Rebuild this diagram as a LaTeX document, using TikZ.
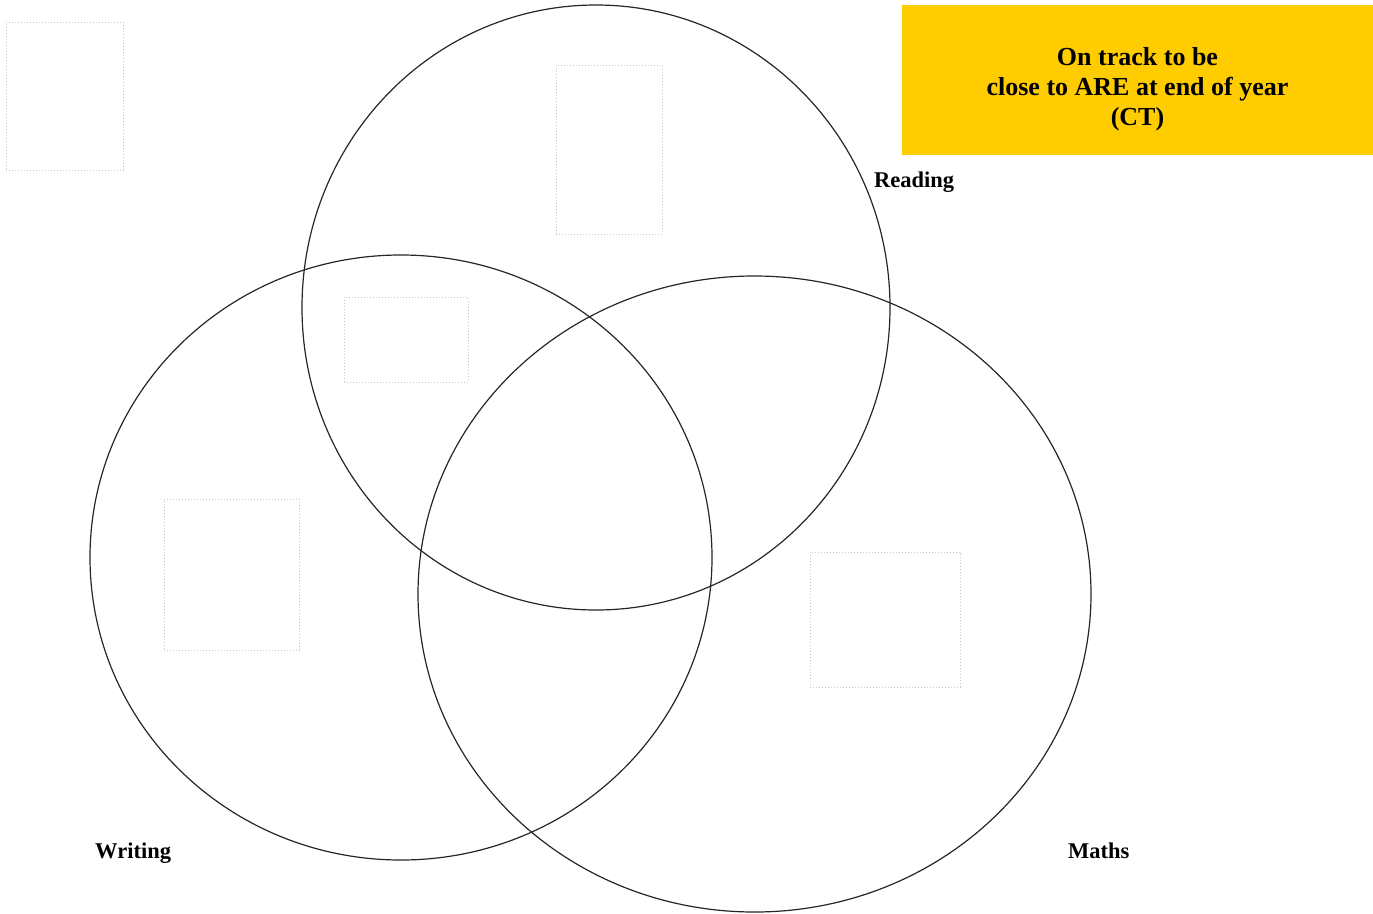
\documentclass[tikz,border=0pt]{standalone}
\usepackage{fontspec}
\setmainfont{Liberation Serif}
\usetikzlibrary{shapes.geometric}
\definecolor{gold}{HTML}{FFCC00}
\definecolor{dotgray}{HTML}{C8C8C8}
\begin{document}
\begin{tikzpicture}[x=1pt,y=-1pt,
  set/.style={draw=black!85,line width=1.2pt,ellipse,inner sep=0pt,fill=none},
  slot/.style={draw=dotgray,dotted,line width=1pt,inner sep=0pt},
  lbl/.style={font=\fontsize{22.5}{26}\selectfont\bfseries,anchor=base west,inner sep=0pt},
  title/.style={fill=gold,inner sep=0pt,align=center,font=\fontsize{26}{30}\selectfont\bfseries}]
\useasboundingbox (0,0) rectangle (1373,913);
% sets
\node[set,minimum width=588pt,minimum height=605pt] (reading) at (596,307.5) {};
\node[set,minimum width=622pt,minimum height=605pt] (writing) at (401,557.5) {};
\node[set,minimum width=673pt,minimum height=636pt] (maths) at (754.5,594) {};
% placeholder boxes
\node[slot,minimum width=117pt,minimum height=148pt] (b1) at (64.5,96) {};
\node[slot,minimum width=106pt,minimum height=169pt] (b2) at (609,149.5) {};
\node[slot,minimum width=124pt,minimum height=85pt] (b3) at (406,339.5) {};
\node[slot,minimum width=135pt,minimum height=151pt] (b4) at (231.5,574.5) {};
\node[slot,minimum width=150pt,minimum height=135pt] (b5) at (885,619.5) {};
% title
\node[fill=gold,minimum width=471pt,minimum height=150pt,inner sep=0pt] (head) at (1137.5,80) {};
\node[title,fill=none] (headtext) at (1137.5,89) {On track to be\\close to ARE at end of year\\(CT)};
% labels
\node[lbl] (lr) at (874,187) {Reading};
\node[lbl] (lw) at (95,858) {Writing};
\node[lbl] (lm) at (1068,858) {Maths};
\end{tikzpicture}
\end{document}
